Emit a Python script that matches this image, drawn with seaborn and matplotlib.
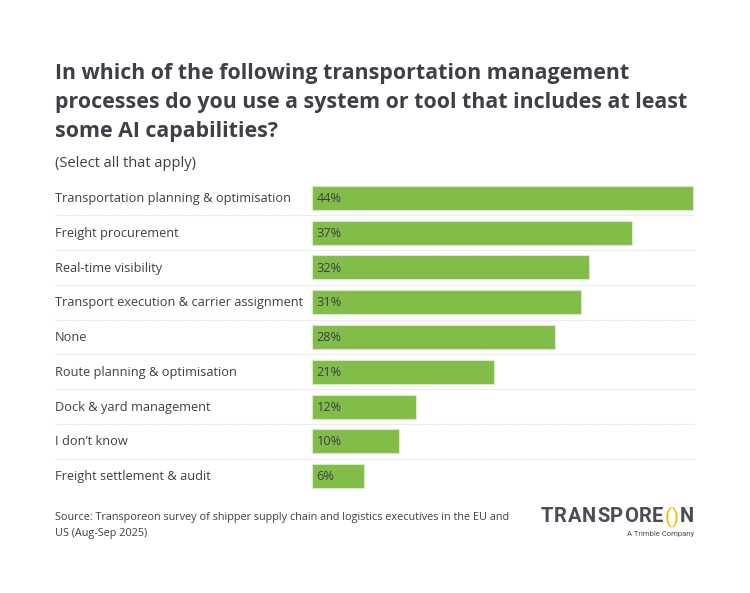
import matplotlib
matplotlib.use("Agg")
import matplotlib.pyplot as plt
import matplotlib.transforms as mtransforms
import seaborn as sns
import pandas as pd

categories = [
    "Transportation planning & optimisation",
    "Freight procurement",
    "Real-time visibility",
    "Transport execution & carrier assignment",
    "None",
    "Route planning & optimisation",
    "Dock & yard management",
    "I don\u2019t know",
    "Freight settlement & audit",
]
values = [44, 37, 32, 31, 28, 21, 12, 10, 6]

TEXT = "#3d4047"
GREEN = "#82bd4a"

sns.set_theme(style="white")
plt.rcParams['font.family'] = ['Open Sans', 'DejaVu Sans']

W, H = 750, 593
fig = plt.figure(figsize=(7.5, 5.93), dpi=100)
fig.patch.set_facecolor("white")

ax_left, ax_right = 312 / W, 694 / W
top_px, bot_px = 180.6, 493.4
ax = fig.add_axes([ax_left, 1 - bot_px / H, ax_right - ax_left, (bot_px - top_px) / H])

df = pd.DataFrame({"cat": categories, "val": values})
sns.barplot(data=df, x="val", y="cat", orient="h", color=GREEN, width=0.69,
            saturation=1, ax=ax, edgecolor="#d9ecc8", linewidth=0.8)

ax.set_xlim(0, 44.1)
ax.set_ylim(len(categories) - 0.5, -0.5)
ax.set_xlabel("")
ax.set_ylabel("")
ax.set_xticks([])
ax.set_yticks([])
for s in ax.spines.values():
    s.set_visible(False)

FS = 9.2
# value labels
for i, v in enumerate(values):
    ax.text(0.5, i + 0.02, f"{v}%", va="center", ha="left", fontsize=FS, color=TEXT)

# category labels & separators
trans = mtransforms.blended_transform_factory(ax.transAxes, ax.transData)
x0 = (55 - 312) / (694 - 312)
for i, c in enumerate(categories):
    ax.text(x0, i + 0.02, c, va="center", ha="left", fontsize=FS, color=TEXT,
            transform=trans, clip_on=False)
for i in range(len(categories) - 1):
    ax.plot([x0, 1.0], [i + 0.5, i + 0.5], transform=trans, color="#dcdcdc",
            linestyle=(0, (1, 1)), linewidth=0.8, clip_on=False)

# title
fig.text(55 / W, 1 - 62.5 / H,
         "In which of the following transportation management\n"
         "processes do you use a system or tool that includes at least\n"
         "some AI capabilities?",
         ha="left", va="top", fontsize=15.4, fontweight="bold", color=TEXT,
         linespacing=1.53)
fig.text(55 / W, 1 - 163 / H, "(Select all that apply)", ha="left", va="center",
         fontsize=10.5, color=TEXT)

# source
fig.text(55 / W, 1 - 512 / H,
         "Source: Transporeon survey of shipper supply chain and logistics executives in the EU and\nUS (Aug-Sep 2025)",
         ha="left", va="top", fontsize=7.85, color=TEXT, linespacing=1.58)

# logo: letters laid out with tracking
fig.canvas.draw()
renderer = fig.canvas.get_renderer()
logo_chars = ["T", "R", "A", "N", "S", "P", "O", "R", "E", "(", ")", "N"]
logo_cols = ["#4a4d55"] * 9 + ["#f5b800", "#f5b800"] + ["#4a4d55"]
logo_w = ["bold"] * 9 + ["normal", "normal"] + ["bold"]
ly = 1 - 517 / H
texts = []
widths = []
for ch, col, wt in zip(logo_chars, logo_cols, logo_w):
    t = fig.text(0, ly, ch, ha="left", va="center", fontsize=14.5, fontweight=wt,
                 color=col, family=["Roboto", "DejaVu Sans"])
    bb = t.get_window_extent(renderer)
    texts.append(t)
    widths.append(bb.width)
total = sum(widths)
start, end = 541.0, 694.0
gap = (end - start - total) / (len(logo_chars) - 1)
x = start
for t, w in zip(texts, widths):
    t.set_x(x / W)
    x += w + gap
fig.text(694 / W, 1 - 534 / H, "A Trimble Company", ha="right", va="center",
         fontsize=5.5, color="#4a4d55", family=["Roboto", "DejaVu Sans"])

fig.savefig("out.png", dpi=100, facecolor="white")
